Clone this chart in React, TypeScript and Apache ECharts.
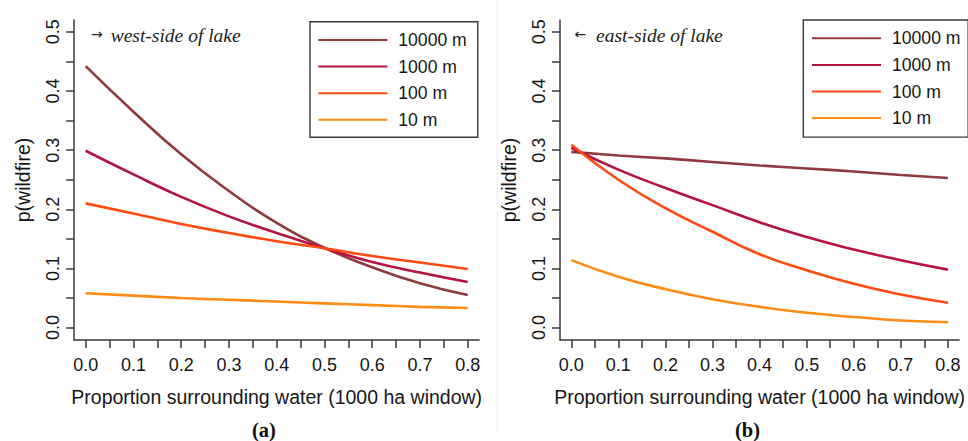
import React, { useEffect, useRef } from "react";
import * as echarts from "echarts";

// ---- data ----
const xValues = [0, 0.1, 0.2, 0.3, 0.4, 0.5, 0.6, 0.7, 0.8];
const seriesNames = ["10000 m", "1000 m", "100 m", "10 m"];
const seriesColors = ["#8E3A3E", "#B5123F", "#FF4A0F", "#FF8A14"];

// (a) west-side of lake
const west10000 = [0.442, 0.365, 0.293, 0.231, 0.177, 0.135, 0.102, 0.075, 0.055];
const west1000 = [0.299, 0.259, 0.221, 0.188, 0.16, 0.134, 0.111, 0.093, 0.077];
const west100 = [0.21, 0.193, 0.175, 0.16, 0.146, 0.134, 0.121, 0.11, 0.099];
const west10 = [0.058, 0.054, 0.05, 0.047, 0.044, 0.041, 0.038, 0.035, 0.033];

// (b) east-side of lake
const east10000 = [0.297, 0.291, 0.286, 0.28, 0.274, 0.269, 0.264, 0.258, 0.253];
const east1000 = [0.304, 0.267, 0.236, 0.207, 0.178, 0.153, 0.132, 0.114, 0.098];
const east100 = [0.309, 0.25, 0.202, 0.162, 0.124, 0.097, 0.074, 0.056, 0.042];
const east10 = [0.114, 0.086, 0.065, 0.048, 0.035, 0.025, 0.018, 0.012, 0.009];

const westSeries = [west10000, west1000, west100, west10];
const eastSeries = [east10000, east1000, east100, east10];

// ticks and labels
const xTickValues = [0, 0.05, 0.1, 0.15, 0.2, 0.25, 0.3, 0.35, 0.4, 0.45, 0.5, 0.55, 0.6, 0.65, 0.7, 0.75, 0.8];
const xLabelValues = [0, 0.1, 0.2, 0.3, 0.4, 0.5, 0.6, 0.7, 0.8];
const yTickValues = [0, 0.05, 0.1, 0.15, 0.2, 0.25, 0.3, 0.35, 0.4, 0.45, 0.5];
const yLabelValues = [0, 0.1, 0.2, 0.3, 0.4, 0.5];

const xTitle = "Proportion surrounding water (1000 ha window)";
const yTitle = "p(wildfire)";
const panelNotes = ["west-side of lake", "east-side of lake"];
const panelArrows = ["→", "←"];
const panelTags = ["(a)", "(b)"];

const SANS = "'Liberation Sans', Arial, sans-serif";
const SERIF = "'Liberation Serif', 'Times New Roman', serif";
const AXIS_COLOR = "#3a3a3a";
const TEXT_COLOR = "#161616";

export default function App() {
  const ref = useRef<HTMLDivElement>(null);

  useEffect(() => {
    if (!ref.current) return;
    const chart = echarts.init(ref.current, null, { renderer: "svg" });

    const grids = [
      { left: 74.2, top: 20, width: 405, height: 320 },
      { left: 560, top: 20, width: 405, height: 320 },
    ];

    const axisLineStyle = { color: AXIS_COLOR, width: 1.5 };

    const xAxes = grids.map((_, gi) => ({
      type: "value",
      gridIndex: gi,
      min: -0.024,
      max: 0.824,
      axisLine: { show: true, onZero: false, lineStyle: axisLineStyle },
      axisTick: { show: true, customValues: xTickValues, length: 8, lineStyle: axisLineStyle },
      axisLabel: {
        customValues: xLabelValues,
        formatter: (v: number) => v.toFixed(1),
        fontSize: 18,
        fontFamily: SANS,
        color: TEXT_COLOR,
        margin: 16,
      },
      splitLine: { show: false },
      name: xTitle,
      nameLocation: "middle",
      nameGap: 47,
      nameTextStyle: { fontSize: 19.5, fontFamily: SANS, color: TEXT_COLOR },
    }));

    const yAxes = grids.map((_, gi) => ({
      type: "value",
      gridIndex: gi,
      min: -0.021,
      max: 0.52,
      axisLine: { show: true, onZero: false, lineStyle: axisLineStyle },
      axisTick: { show: true, customValues: yTickValues, length: 8, lineStyle: axisLineStyle },
      axisLabel: {
        customValues: yLabelValues,
        formatter: (v: number) => v.toFixed(1),
        rotate: 90,
        fontSize: 18,
        fontFamily: SANS,
        color: TEXT_COLOR,
        margin: 12,
      },
      splitLine: { show: false },
      name: yTitle,
      nameLocation: "middle",
      nameRotate: 90,
      nameGap: 41,
      nameTextStyle: { fontSize: 19.5, fontFamily: SANS, color: TEXT_COLOR },
    }));

    const series: any[] = [];
    [westSeries, eastSeries].forEach((panel, gi) => {
      panel.forEach((vals, si) => {
        series.push({
          type: "line",
          name: seriesNames[si],
          xAxisIndex: gi,
          yAxisIndex: gi,
          data: xValues.map((x, i) => [x, vals[i]]),
          symbol: "none",
          smooth: true,
          lineStyle: { color: seriesColors[si], width: 2.6 },
          itemStyle: { color: seriesColors[si] },
          emphasis: { disabled: true },
        });
      });
    });

    const legendBase = {
      data: seriesNames,
      orient: "vertical",
      itemWidth: 69,
      itemHeight: 20,
      itemGap: 8.6,
      selectedMode: false,
      backgroundColor: "#ffffff",
      borderColor: AXIS_COLOR,
      borderWidth: 1.4,
      borderRadius: 0,
      itemStyle: { opacity: 0 },
      textStyle: {
        fontSize: 17.6,
        fontFamily: SANS,
        color: TEXT_COLOR,
        padding: [0, 0, 0, 6],
      },
    };

    const legends = [
      { ...legendBase, left: 310, top: 21.7, padding: [9.3, 11, 8.5, 7.3] },
      { ...legendBase, left: 803.3, top: 20, padding: [9.3, 7.7, 10, 7.7] },
    ];

    const notePos = [
      { arrowX: 91, textX: 110.7, tagX: 264 },
      { arrowX: 574.5, textX: 596, tagX: 747.5 },
    ];

    const graphics: any[] = [
      {
        type: "line",
        shape: { x1: 497.3, y1: 0, x2: 497.3, y2: 431.7 },
        style: { stroke: "#ececec", lineWidth: 1 },
        silent: true,
      },
    ];
    notePos.forEach((p, i) => {
      graphics.push({
        type: "text",
        x: p.arrowX,
        y: 33.5,
        style: {
          text: panelArrows[i],
          fontSize: 14,
          fontFamily: "'DejaVu Sans', sans-serif",
          fill: "#222",
          align: "left",
          verticalAlign: "middle",
        },
      });
      graphics.push({
        type: "text",
        x: p.textX,
        y: 35.5,
        style: {
          text: panelNotes[i],
          fontSize: 19.5,
          fontStyle: "italic",
          fontFamily: SERIF,
          fill: "#222",
          align: "left",
          verticalAlign: "middle",
        },
      });
      graphics.push({
        type: "text",
        x: p.tagX,
        y: 429.5,
        style: {
          text: panelTags[i],
          fontSize: 20.5,
          fontWeight: "bold",
          fontFamily: SERIF,
          fill: "#111",
          align: "center",
          verticalAlign: "middle",
        },
      });
    });

    chart.setOption({
      animation: false,
      backgroundColor: "#ffffff",
      grid: grids,
      xAxis: xAxes,
      yAxis: yAxes,
      legend: legends,
      series,
      graphic: graphics,
    });

    return () => {
      chart.dispose();
    };
  }, []);

  return (
    <div
      ref={ref}
      style={{ position: "absolute", left: 0, top: 0, width: 968, height: 441, background: "#fff" }}
    />
  );
}
